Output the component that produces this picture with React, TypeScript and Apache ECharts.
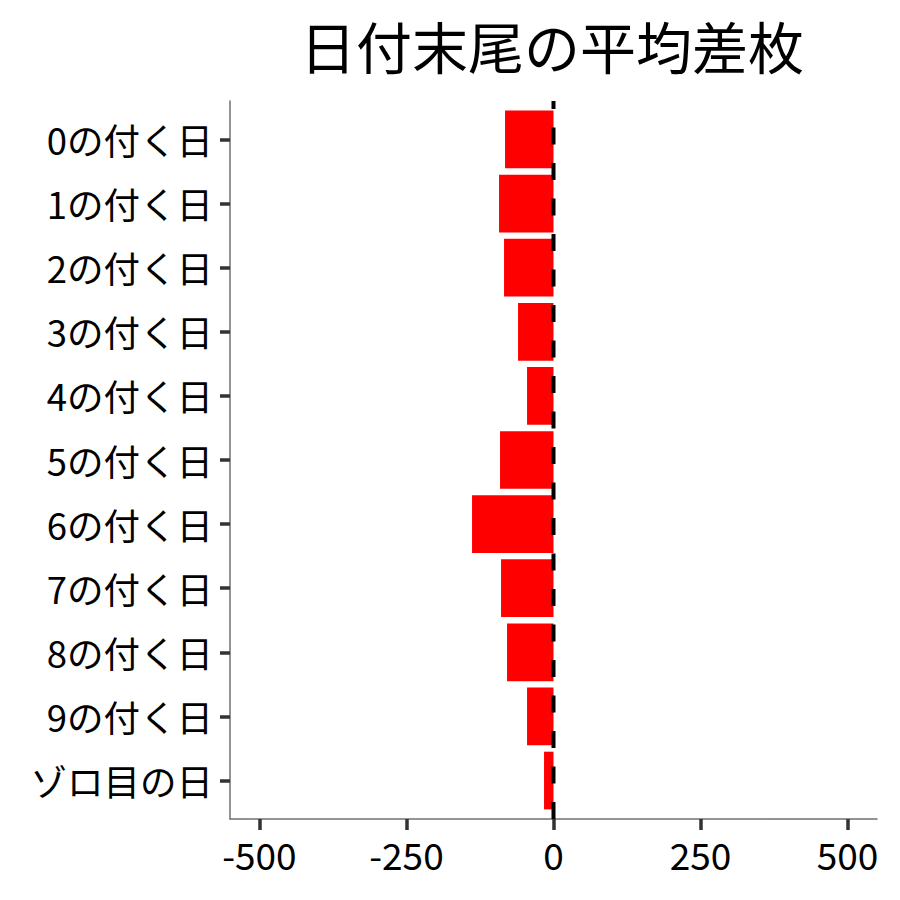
import React, { useEffect, useRef } from "react";
import * as echarts from "echarts";

const titleText = "日付末尾の平均差枚";
const categories = [
  "0の付く日",
  "1の付く日",
  "2の付く日",
  "3の付く日",
  "4の付く日",
  "5の付く日",
  "6の付く日",
  "7の付く日",
  "8の付く日",
  "9の付く日",
  "ゾロ目の日",
];
const diffValues = [-82.4, -92.6, -84.1, -60.3, -45.0, -90.9, -138.5, -89.2, -79.0, -45.0, -16.1];
const xTicks = [-500, -250, 0, 250, 500];
const xLimits = [-550, 550];
const zeroLine = 0;

const FONT = '"Noto Sans CJK JP", "Noto Sans", sans-serif';

export default function App() {
  const ref = useRef<HTMLDivElement>(null);
  useEffect(() => {
    if (!ref.current) return;
    const chart = echarts.init(ref.current, null, { renderer: "svg" });
    const n = categories.length;
    const yMin = -0.6;
    const yMax = n - 1 + 0.6;
    const catIdx = categories.map((_, i) => i);
    const option: any = {
      animation: false,
      backgroundColor: "#ffffff",
      textStyle: { fontFamily: FONT },
      grid: { left: 230, right: 23, top: 101, bottom: 81, containLabel: false },
      graphic: [
        {
          type: "text",
          x: 552,
          y: 44,
          style: {
            text: titleText,
            fontSize: 56,
            fontFamily: FONT,
            fill: "#000000",
            textAlign: "center",
            textVerticalAlign: "middle",
          },
        },
      ],
      xAxis: {
        type: "value",
        min: xLimits[0],
        max: xLimits[1],
        splitLine: { show: false },
        axisLine: { show: true, onZero: false, lineStyle: { color: "#707070", width: 1.5 } },
        axisTick: {
          show: true,
          customValues: xTicks,
          length: 11,
          lineStyle: { color: "#333333", width: 3.5 },
        },
        axisLabel: {
          customValues: xTicks,
          fontSize: 37,
          fontFamily: FONT,
          color: "#000000",
          margin: 16,
          formatter: (v: number) => String(v),
        },
      },
      yAxis: {
        type: "value",
        inverse: true,
        min: yMin,
        max: yMax,
        splitLine: { show: false },
        axisLine: { show: true, onZero: false, lineStyle: { color: "#707070", width: 1.5 } },
        axisTick: {
          show: true,
          customValues: catIdx,
          length: 10,
          lineStyle: { color: "#333333", width: 3.5 },
        },
        axisLabel: {
          customValues: catIdx,
          fontSize: 36.5,
          fontFamily: FONT,
          color: "#000000",
          margin: 17,
          formatter: (v: number) => categories[Math.round(v)] ?? "",
        },
      },
      series: [
        {
          type: "custom",
          coordinateSystem: "cartesian2d",
          encode: { x: 0, y: 1 },
          data: diffValues.map((v, i) => [v, i]),
          renderItem: (params: any, api: any) => {
            const v = api.value(0);
            const i = api.value(1);
            const p0 = api.coord([0, i]);
            const p1 = api.coord([v, i]);
            const h = api.size([0, 0.9])[1];
            return {
              type: "rect",
              shape: {
                x: Math.min(p0[0], p1[0]),
                y: p0[1] - h / 2,
                width: Math.abs(p1[0] - p0[0]),
                height: h,
              },
              style: { fill: "#FF0000" },
            };
          },
          z: 2,
        },
        {
          type: "line",
          data: [
            [zeroLine, yMax],
            [zeroLine, yMin],
          ],
          symbol: "none",
          lineStyle: { color: "#000000", width: 4, type: [17, 18.5] },
          z: 5,
          silent: true,
        },
      ],
    };
    chart.setOption(option);
    return () => chart.dispose();
  }, []);
  return (
    <div
      ref={ref}
      style={{ position: "fixed", left: 0, top: 0, width: 900, height: 900, background: "#fff" }}
    />
  );
}
